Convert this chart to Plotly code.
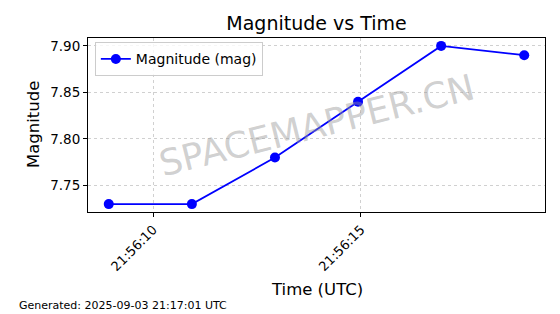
import plotly.graph_objects as go

times = ["2025-09-03 21:56:08.93", "2025-09-03 21:56:10.93", "2025-09-03 21:56:12.93",
         "2025-09-03 21:56:14.93", "2025-09-03 21:56:16.93", "2025-09-03 21:56:18.93"]
magnitudes = [7.73, 7.73, 7.78, 7.84, 7.90, 7.89]
x_tick_vals = ["2025-09-03 21:56:10", "2025-09-03 21:56:15"]
x_tick_text = ["21:56:10", "21:56:15"]
y_tick_vals = [7.75, 7.80, 7.85, 7.90]
y_tick_text = ["7.75", "7.80", "7.85", "7.90"]

FONT = "DejaVu Sans"

fig = go.Figure()
fig.add_trace(go.Scatter(
    x=times, y=magnitudes, mode="lines+markers", name="Magnitude (mag)",
    line=dict(color="#0000ff", width=1.8),
    marker=dict(color="#0000ff", size=10),
))

fig.update_layout(
    width=560, height=314,
    margin=dict(l=88, r=15, t=38, b=102),
    paper_bgcolor="white", plot_bgcolor="white",
    font=dict(family=FONT, color="black"),
    title=dict(text="Magnitude vs Time", x=0.5, xref="paper", xanchor="center",
               y=1 - 23 / 314, yref="container", yanchor="middle",
               font=dict(size=19, family=FONT)),
    showlegend=True,
    legend=dict(x=0.015, y=0.975, xanchor="left", yanchor="top",
                bgcolor="rgba(255,255,255,0.8)", bordercolor="#cccccc", borderwidth=1,
                font=dict(size=14, family=FONT), itemwidth=30),
)

fig.update_xaxes(
    type="date", range=["2025-09-03 21:56:08.43", "2025-09-03 21:56:19.43"],
    tickvals=x_tick_vals, ticktext=x_tick_text, tickangle=-45,
    tickfont=dict(size=13, family=FONT),
    ticks="outside", ticklen=4, tickcolor="black",
    showline=True, linecolor="black", linewidth=1, mirror=True,
    showgrid=True, gridcolor="#d0d0d0", griddash="3px,3px", gridwidth=1,
    zeroline=False,
)
fig.update_yaxes(
    range=[7.7215, 7.9085],
    tickvals=y_tick_vals, ticktext=y_tick_text,
    tickfont=dict(size=13.5, family=FONT),
    ticks="outside", ticklen=4, tickcolor="black",
    showline=True, linecolor="black", linewidth=1, mirror=True,
    showgrid=True, gridcolor="#d0d0d0", griddash="3px,3px", gridwidth=1,
    zeroline=False,
)

fig.add_annotation(text="Time (UTC)", xref="paper", yref="paper",
                   x=0.5, y=-(289 - 212) / 174, xanchor="center", yanchor="middle",
                   showarrow=False, font=dict(size=16.5, family=FONT))
fig.add_annotation(text="Magnitude", xref="paper", yref="paper",
                   x=-(88 - 33) / 457, y=(212 - 125) / 174, xanchor="center", yanchor="middle",
                   textangle=-90, showarrow=False, font=dict(size=16.5, family=FONT))
fig.add_annotation(text="Generated: 2025-09-03 21:17:01 UTC", xref="paper", yref="paper",
                   x=-(88 - 17) / 457, y=-(305 - 212) / 174, xanchor="left", yanchor="middle",
                   showarrow=False, font=dict(size=11, family=FONT))
fig.add_annotation(text="SPACEMAPPER.CN", xref="paper", yref="paper",
                   x=(316 - 88) / 457, y=(212 - 125) / 174, xanchor="center", yanchor="middle",
                   textangle=-14, showarrow=False,
                   font=dict(size=36, family=FONT, color="rgba(150,150,150,0.45)"))

fig.write_html("out.html")
